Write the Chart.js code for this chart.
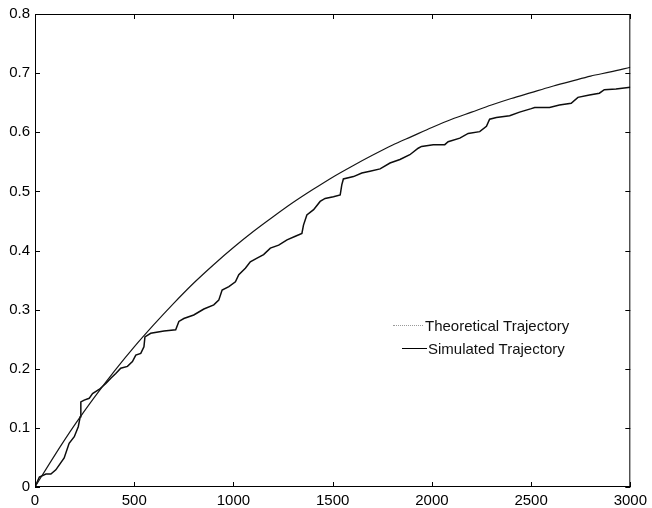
<!DOCTYPE html>
<html lang="en">
<head>
  <meta charset="UTF-8" />
  <title>Theoretical vs Simulated Trajectory</title>
  <script src="https://cdn.jsdelivr.net/npm/chart.js"></script>
  <style>
    body {
      margin: 0;
      background: #fff;
      font-family: 'Liberation Sans', Arial, sans-serif;
    }
    .wrap {
      position: relative;
      width: 652px;
      height: 508px;
    }
    .legend {
      position: absolute;
      left: 393px;
      top: 314px;
      font-size: 15px;
      line-height: 23px;
      color: #111;
    }
    .legend .row {
      display: flex;
      align-items: center;
      white-space: nowrap;
    }
    .legend .dots {
      display: inline-block;
      width: 30px;
      border-top: 1px dotted #999;
      margin-right: 2px;
    }
    .legend .solid {
      display: inline-block;
      width: 25px;
      margin-left: 9px;
      margin-right: 1px;
      border-top: 1px solid #000;
    }
  </style>
</head>
<body>
  <div class="wrap">
    <canvas id="trajChart" width="652" height="508"></canvas>
    <div class="legend">
      <div class="row"><span class="dots"></span>Theoretical Trajectory</div>
      <div class="row"><span class="solid"></span>Simulated Trajectory</div>
    </div>
  </div>

  <script>
    // axis ticks
    const xTicks = [0, 500, 1000, 1500, 2000, 2500, 3000];
    const yTicks = [0, 0.1, 0.2, 0.3, 0.4, 0.5, 0.6, 0.7, 0.8];
    const yTickLabels = ['0', '0.1', '0.2', '0.3', '0.4', '0.5', '0.6', '0.7', '0.8'];

    // theoretical trajectory, read every 100 steps
    const theoX = [0, 100, 200, 300, 400, 500, 600, 700, 800, 900, 1000, 1100, 1200, 1300, 1400, 1500,
                   1600, 1700, 1800, 1900, 2000, 2100, 2200, 2300, 2400, 2500, 2600, 2700, 2800, 2900, 3000];
    const theoY = [0, 0.054, 0.105, 0.152, 0.196, 0.237, 0.275, 0.311, 0.345, 0.376, 0.405, 0.432, 0.457,
                   0.481, 0.503, 0.524, 0.543, 0.561, 0.578, 0.593, 0.608, 0.622, 0.634, 0.646, 0.657,
                   0.667, 0.677, 0.686, 0.695, 0.702, 0.710];

    // simulated trajectory
    const simX = [0, 22, 55, 80, 105, 147, 172, 198, 218, 228, 231, 248, 273, 290, 323, 357, 382, 407, 432,
                  466, 491, 508, 533, 549, 554, 583, 650, 709, 725, 750, 800, 851, 901, 926, 943, 977, 1010,
                  1027, 1060, 1085, 1119, 1152, 1186, 1228, 1270, 1312, 1345, 1353, 1370, 1404, 1437, 1462,
                  1504, 1538, 1546, 1554, 1605, 1647, 1688, 1739, 1789, 1839, 1889, 1931, 1948, 2007, 2065,
                  2082, 2141, 2183, 2241, 2275, 2291, 2325, 2392, 2442, 2501, 2518, 2593, 2643, 2702, 2736,
                  2794, 2844, 2869, 2928, 3000];
    const simY = [0, 0.017, 0.022, 0.022, 0.029, 0.049, 0.074, 0.085, 0.102, 0.119, 0.144, 0.147, 0.150,
                  0.158, 0.165, 0.175, 0.184, 0.192, 0.201, 0.204, 0.212, 0.223, 0.226, 0.237, 0.254, 0.260,
                  0.264, 0.266, 0.280, 0.285, 0.291, 0.301, 0.308, 0.316, 0.333, 0.339, 0.347, 0.359, 0.370,
                  0.381, 0.387, 0.393, 0.404, 0.409, 0.418, 0.424, 0.429, 0.443, 0.460, 0.469, 0.483, 0.488,
                  0.491, 0.494, 0.511, 0.521, 0.525, 0.531, 0.534, 0.538, 0.548, 0.554, 0.562, 0.573, 0.576,
                  0.579, 0.579, 0.584, 0.590, 0.598, 0.601, 0.610, 0.622, 0.625, 0.628, 0.634, 0.640, 0.642,
                  0.642, 0.646, 0.649, 0.659, 0.663, 0.666, 0.672, 0.673, 0.676];

    Chart.defaults.font.family = "'Liberation Sans', Arial, sans-serif";
    Chart.defaults.font.size = 15;
    Chart.defaults.color = '#000';

    // box around the plot with matlab style inward ticks
    const frame = {
      id: 'frame',
      afterDraw(chart) {
        const { ctx, chartArea: a, scales: { x, y } } = chart;
        ctx.save();
        ctx.strokeStyle = '#000';
        ctx.lineWidth = 1;
        ctx.strokeRect(a.left + 0.5, a.top + 0.5, a.width - 1, a.height - 1);
        ctx.beginPath();
        x.ticks.forEach(t => {
          const p = Math.round(x.getPixelForValue(t.value)) + 0.5;
          ctx.moveTo(p, a.bottom); ctx.lineTo(p, a.bottom - 5);
          ctx.moveTo(p, a.top); ctx.lineTo(p, a.top + 5);
        });
        y.ticks.forEach(t => {
          const p = Math.round(y.getPixelForValue(t.value)) + 0.5;
          ctx.moveTo(a.left, p); ctx.lineTo(a.left + 5, p);
          ctx.moveTo(a.right, p); ctx.lineTo(a.right - 5, p);
        });
        ctx.stroke();
        ctx.restore();
      }
    };

    new Chart(document.getElementById('trajChart'), {
      type: 'line',
      data: {
        datasets: [
          {
            label: 'Theoretical Trajectory',
            data: theoX.map((v, i) => ({ x: v, y: theoY[i] })),
            borderColor: '#151515',
            borderWidth: 1.2,
            pointRadius: 0,
            cubicInterpolationMode: 'monotone'
          },
          {
            label: 'Simulated Trajectory',
            data: simX.map((v, i) => ({ x: v, y: simY[i] })),
            borderColor: '#0d0d0d',
            borderWidth: 1.5,
            pointRadius: 0,
            tension: 0
          }
        ]
      },
      options: {
        responsive: false,
        animation: false,
        layout: { padding: { top: 14, right: 20, left: 0, bottom: 0 } },
        plugins: {
          legend: { display: false },
          tooltip: { enabled: false }
        },
        scales: {
          x: {
            type: 'linear',
            min: 0,
            max: 3000,
            grid: { display: false, drawTicks: false },
            border: { display: false },
            ticks: { padding: 5, maxRotation: 0, callback: v => String(v) },
            afterBuildTicks: s => { s.ticks = xTicks.map(v => ({ value: v })); },
            afterFit: s => { s.height = 21; }
          },
          y: {
            min: 0,
            max: 0.8,
            grid: { display: false, drawTicks: false },
            border: { display: false },
            ticks: { padding: 5, callback: (v, i) => yTickLabels[i] },
            afterBuildTicks: s => { s.ticks = yTicks.map(v => ({ value: v })); },
            afterFit: s => { s.width = 35; }
          }
        }
      },
      plugins: [frame]
    });
  </script>
</body>
</html>
